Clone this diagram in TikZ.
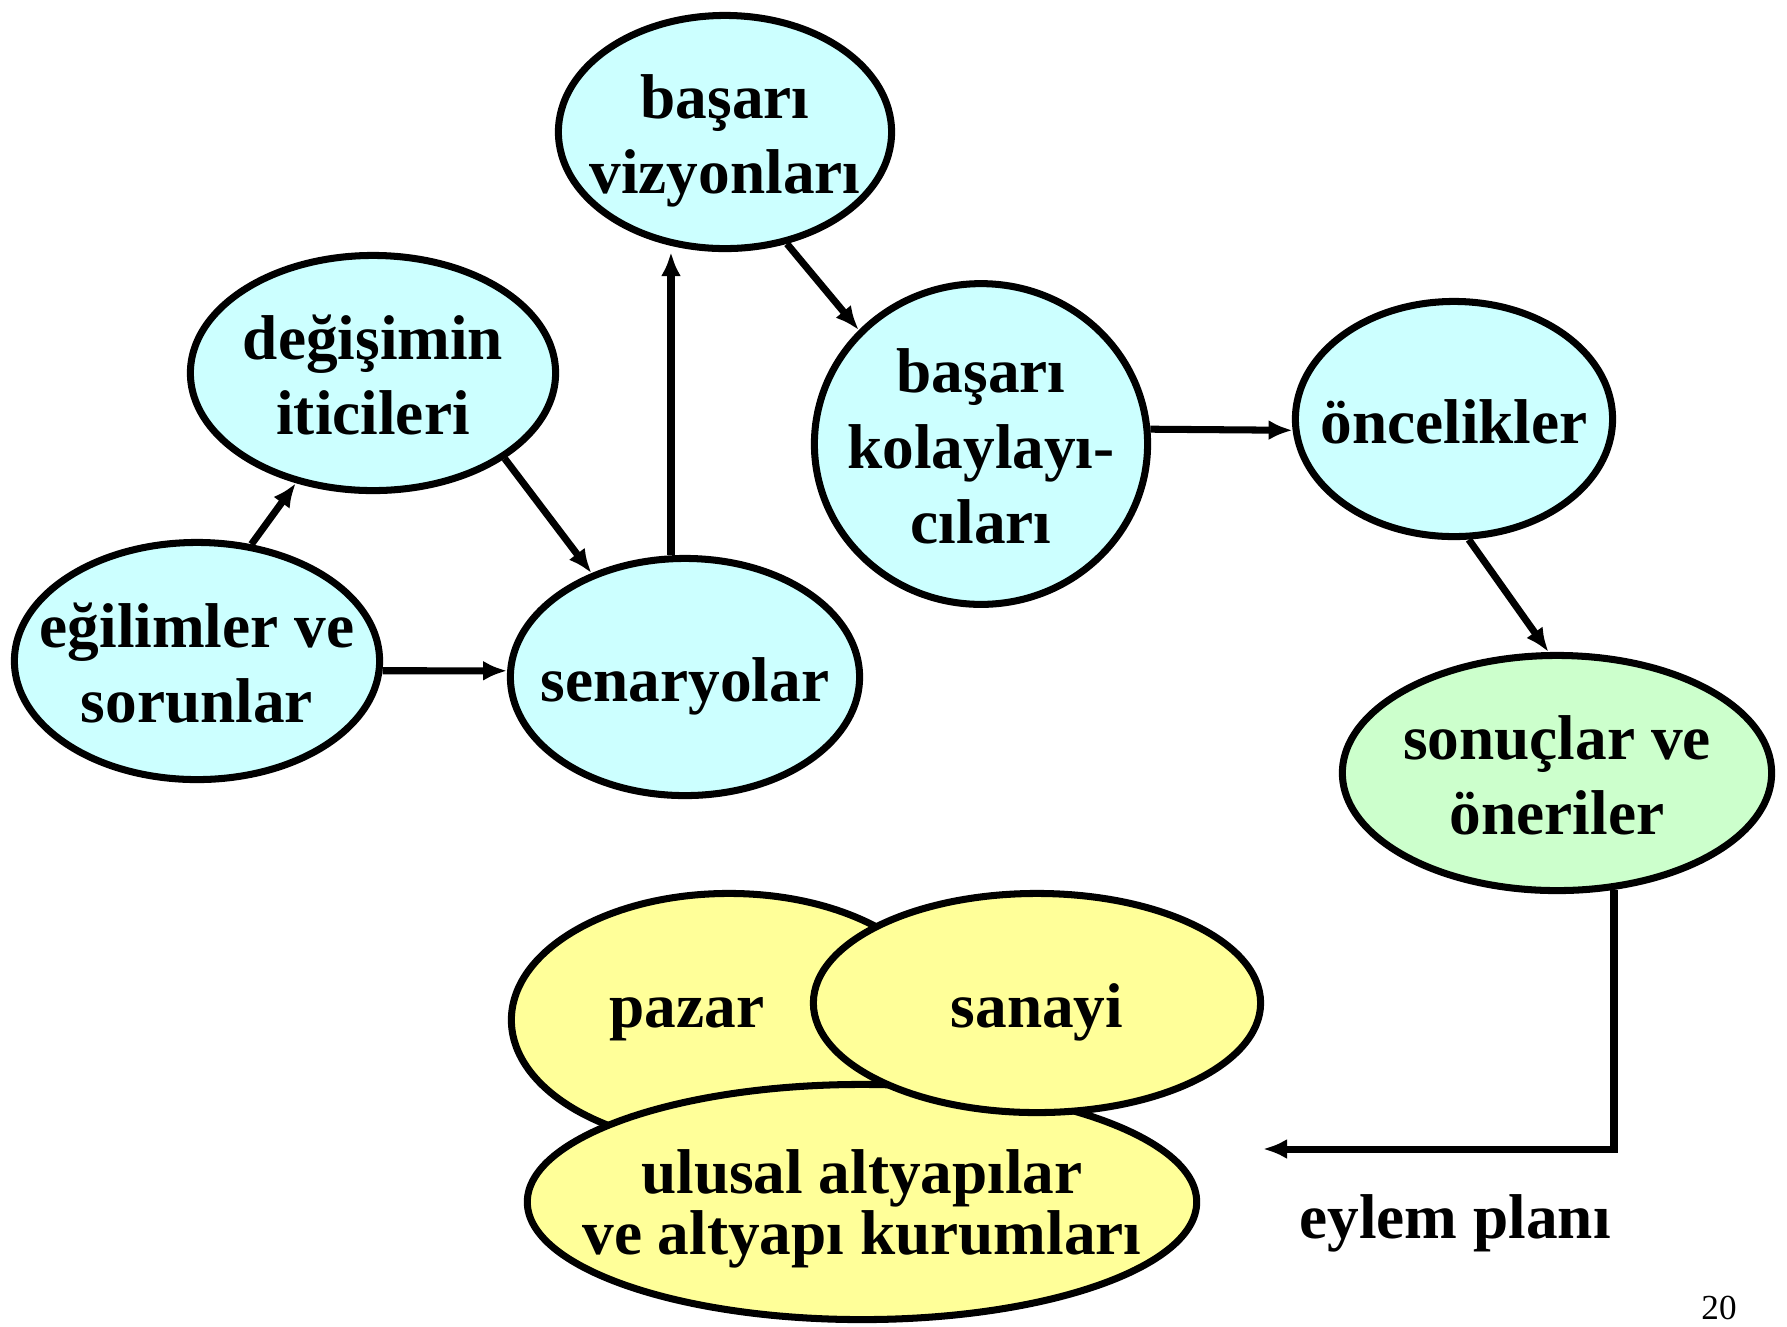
\documentclass[tikz,border=0pt]{standalone}
\usepackage{fontspec}
\setmainfont{Liberation Serif}
\usetikzlibrary{arrows.meta,
		shapes.geometric}

\definecolor{paleblue}{HTML}{CCFFFF}
\definecolor{palegreen}{HTML}{CCFFCC}
\definecolor{paleyellow}{HTML}{FFFF99}

% text of zero width, so the ellipse keeps the size given to it
\newcommand{\btext}[1]{\makebox[0pt]{\raisebox{-0.09cm}[\height][\depth]{\begin{tabular}{@{}c@{}}#1\end{tabular}}}}

\tikzset{
	bubble/.style = {ellipse, draw, line width = 2pt, inner sep = 0pt,
		font = \bfseries\fontsize{18}{21.5}\selectfont},
	arr/.style = {-{Latex[length=0.24cm, width=0.2cm]}, line width = 2pt}
}

\begin{document}
\begin{tikzpicture}[x=0.01cm, y=-0.01cm]

\useasboundingbox (0,0) rectangle (1787,1326);

% upper chain
\node[bubble, fill=paleblue, minimum width=3.33cm, minimum height=2.33cm] (viz) at (725,132) {\btext{başarı\\vizyonları}};
\node[bubble, fill=paleblue, minimum width=3.65cm, minimum height=2.35cm] (deg) at (373,373) {\btext{değişimin\\iticileri}};
\node[bubble, fill=paleblue, minimum width=3.65cm, minimum height=2.37cm] (egi) at (197,661) {\btext{eğilimler ve\\sorunlar}};
\node[bubble, fill=paleblue, minimum width=3.49cm, minimum height=2.37cm] (sen) at (685,677) {\btext{senaryolar}};
\node[bubble, fill=paleblue, minimum width=3.33cm, minimum height=3.17cm] (kol) at (981,444) {\btext{başarı\\kolaylayı-\\cıları}};
\node[bubble, fill=paleblue, minimum width=3.17cm, minimum height=2.35cm] (onc) at (1454,419) {\btext{öncelikler}};
\node[bubble, fill=palegreen, minimum width=4.29cm, minimum height=2.35cm] (son) at (1557,773) {\btext{sonuçlar ve\\öneriler}};

% arrows
\draw[arr] (egi.65) -- (deg.235);
\draw[arr] (deg.-33) -- (sen.132);
\draw[arr] (egi.-3) -- (sen.178);
\draw[arr] ([xshift=-0.14cm]sen.north) -- ([xshift=-0.14cm]sen.north |- viz.south);
\draw[arr] (viz.-61) -- (kol.137);
\draw[arr] (kol.5) -- (onc.184);
\draw[arr] (onc.-83) -- (son.94);

% lower group
\node[bubble, fill=paleyellow, minimum width=4.35cm, minimum height=2.53cm] (pazar) at (729,1020) {\btext{\raisebox{0.17cm}[\height][\depth]{pazar}\kern0.84cm}};
\node[bubble, fill=paleyellow, minimum width=6.69cm, minimum height=2.35cm, font=\bfseries\fontsize{18}{17}\selectfont] (ulusal) at (862,1202) {\btext{ulusal altyapılar\\ve altyapı kurumları}};
\node[bubble, fill=paleyellow, minimum width=4.47cm, minimum height=2.19cm] (sanayi) at (1037,1003) {\btext{sanayi}};

% action plan
\coordinate (plan) at (1263,1149);
\draw[arr] (son.-64) |- (plan);
\node[font=\bfseries\fontsize{18}{21.5}\selectfont] (eylem) at (1455,1223) {eylem planı};

\node[font=\fontsize{10}{12}\selectfont] (page) at (1719,1308) {20};

\end{tikzpicture}
\end{document}
